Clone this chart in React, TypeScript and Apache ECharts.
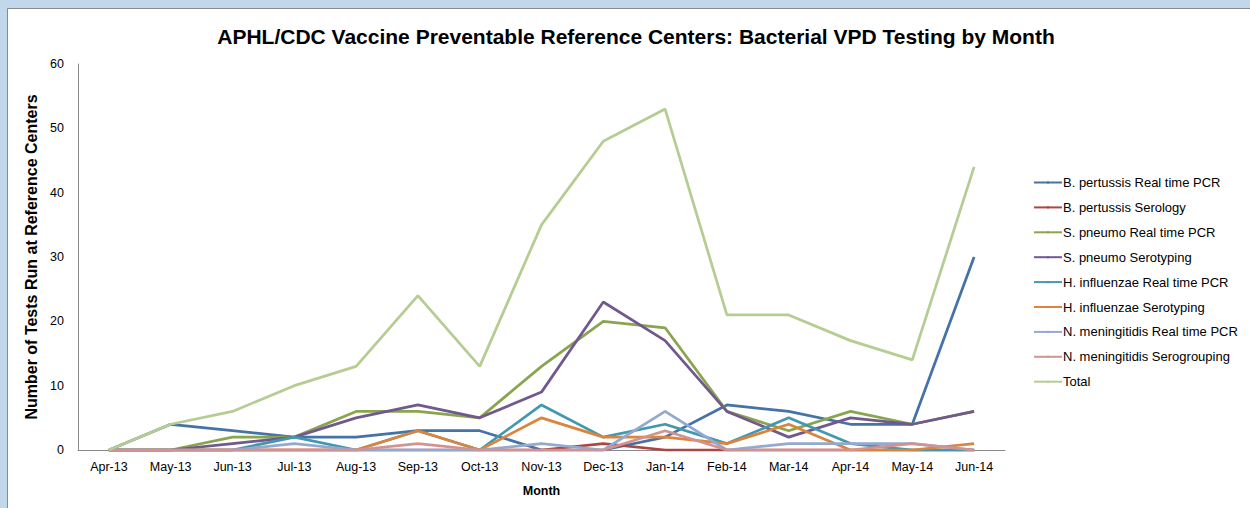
import React, { useEffect, useRef } from "react";
import * as echarts from "echarts";

const months = ["Apr-13", "May-13", "Jun-13", "Jul-13", "Aug-13", "Sep-13", "Oct-13", "Nov-13", "Dec-13", "Jan-14", "Feb-14", "Mar-14", "Apr-14", "May-14", "Jun-14"];

const bPertussisPCR = [0, 4, 3, 2, 2, 3, 3, 0, 0, 2, 7, 6, 4, 4, 30];
const bPertussisSerology = [0, 0, 0, 0, 0, 0, 0, 0, 1, 0, 0, 0, 0, 0, 0];
const sPneumoPCR = [0, 0, 2, 2, 6, 6, 5, 13, 20, 19, 6, 3, 6, 4, 6];
const sPneumoSerotyping = [0, 0, 1, 2, 5, 7, 5, 9, 23, 17, 6, 2, 5, 4, 6];
const hInfluenzaePCR = [0, 0, 0, 2, 0, 3, 0, 7, 2, 4, 1, 5, 1, 0, 0];
const hInfluenzaeSerotyping = [0, 0, 0, 0, 0, 3, 0, 5, 2, 2, 1, 4, 0, 0, 1];
const nMeningitidisPCR = [0, 0, 0, 1, 0, 0, 0, 1, 0, 6, 0, 1, 1, 1, 0];
const nMeningitidisSerogrouping = [0, 0, 0, 0, 0, 1, 0, 0, 0, 3, 0, 0, 0, 1, 0];
const total = [0, 4, 6, 10, 13, 24, 13, 35, 48, 53, 21, 21, 17, 14, 44];

const seriesDefs = [
  { name: "B. pertussis Real time PCR", data: bPertussisPCR, color: "#4572A7" },
  { name: "B. pertussis Serology", data: bPertussisSerology, color: "#AA4643" },
  { name: "S. pneumo Real time PCR", data: sPneumoPCR, color: "#89A54E" },
  { name: "S. pneumo Serotyping", data: sPneumoSerotyping, color: "#71588F" },
  { name: "H. influenzae Real time PCR", data: hInfluenzaePCR, color: "#4198AF" },
  { name: "H. influenzae Serotyping", data: hInfluenzaeSerotyping, color: "#DB843D" },
  { name: "N. meningitidis Real time PCR", data: nMeningitidisPCR, color: "#93A9CF" },
  { name: "N. meningitidis Serogrouping", data: nMeningitidisSerogrouping, color: "#D19392" },
  { name: "Total", data: total, color: "#B5CC92" },
];

const FONT = "Liberation Sans";

export default function App() {
  const ref = useRef<HTMLDivElement>(null);
  useEffect(() => {
    document.body.style.margin = "0";
    const chart = echarts.init(ref.current!, undefined, { renderer: "svg" });
    chart.setOption({
      animation: false,
      backgroundColor: "#c1d7ec",
      textStyle: { fontFamily: FONT },
      graphic: [
        {
          type: "rect",
          z: -10,
          silent: true,
          shape: { x: 7.5, y: 8.5, width: 1260, height: 520 },
          style: { fill: "#ffffff", stroke: "#8a8a8a", lineWidth: 1 },
        },
      ],
      title: {
        text: "APHL/CDC Vaccine Preventable Reference Centers: Bacterial VPD Testing by Month",
        left: 631,
        top: 21,
        textAlign: "center",
        textStyle: { fontFamily: FONT, fontSize: 21, fontWeight: "bold", color: "#000" },
      },
      legend: {
        orient: "vertical",
        left: 1028,
        top: 171,
        itemWidth: 28,
        itemHeight: 3,
        itemGap: 11.9,
        textStyle: { fontFamily: FONT, fontSize: 13, color: "#000", padding: [0, 0, 0, -4] },
        data: seriesDefs.map((s) => s.name),
      },
      grid: { left: 78, right: 245, top: 64, bottom: 58, containLabel: false },
      xAxis: {
        type: "category",
        data: months,
        boundaryGap: true,
        name: "Month",
        nameLocation: "middle",
        nameGap: 34,
        nameTextStyle: { fontFamily: FONT, fontSize: 12.5, fontWeight: "bold", color: "#000" },
        axisLine: { lineStyle: { color: "#8a8a8a", width: 1 } },
        axisTick: { show: false },
        axisLabel: { fontFamily: FONT, fontSize: 12.5, color: "#000", margin: 10, interval: 0 },
      },
      yAxis: {
        type: "value",
        min: 0,
        max: 60,
        interval: 10,
        name: "Number of Tests Run at Reference Centers",
        nameLocation: "middle",
        nameGap: 35,
        nameTextStyle: { fontFamily: FONT, fontSize: 16, fontWeight: "bold", color: "#000" },
        axisLine: { show: true, lineStyle: { color: "#8a8a8a", width: 1 } },
        axisTick: { show: false },
        splitLine: { show: false },
        axisLabel: { fontFamily: FONT, fontSize: 12.5, color: "#000", margin: 14 },
      },
      series: seriesDefs.map((s) => ({
        name: s.name,
        type: "line",
        data: s.data,
        symbol: "none",
        color: s.color,
        lineStyle: { color: s.color, width: 2.75 },
      })),
    });
    return () => chart.dispose();
  }, []);
  return <div ref={ref} style={{ width: 1250, height: 508 }} />;
}
